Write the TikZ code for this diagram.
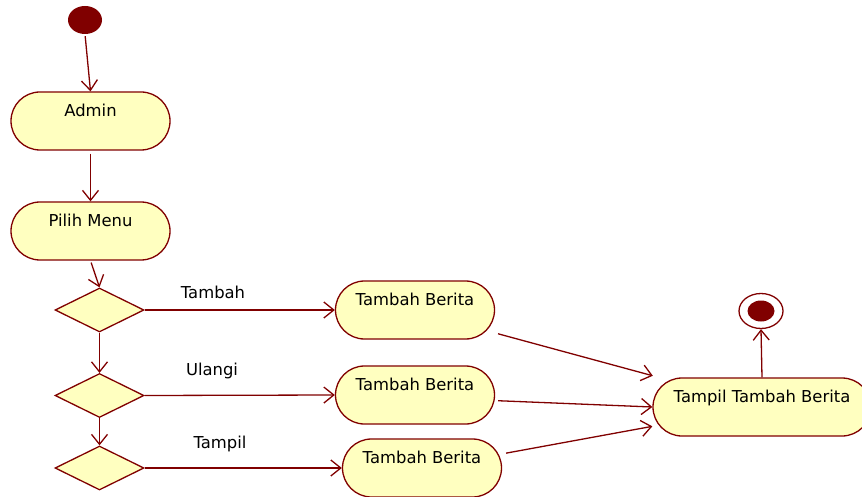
\documentclass[tikz,border=0pt]{standalone}
\usepackage{fontspec}
\setmainfont{DejaVu Sans}
\usetikzlibrary{shapes.geometric,arrows.meta}
\definecolor{edge}{RGB}{128,0,0}
\definecolor{actfill}{RGB}{255,255,192}
\tikzset{
  act/.style={draw=edge, fill=actfill, line width=1.3pt, rectangle,
    minimum width=159pt, minimum height=58pt, rounded corners=29pt,
    inner sep=0pt, text height=9pt, text depth=18pt,
    font=\fontsize{16.4}{19}\selectfont},
  decision/.style={draw=edge, fill=actfill, line width=1.3pt, diamond,
    minimum width=89pt, minimum height=44pt, inner sep=0pt},
  guard/.style={font=\fontsize{16.4}{19}\selectfont, inner sep=0pt},
  flow/.style={draw=edge, line width=1.3pt,
    -{Straight Barb[length=10pt,width=16pt,line width=1.3pt]}},
}
\begin{document}
\begin{tikzpicture}[x=1pt, y=-1pt]
  \path[use as bounding box] (0,0) rectangle (862,497);
  \clip (0,0) rectangle (862,497);

  % start and end markers
  \node[ellipse, fill=edge, minimum width=34pt, minimum height=28pt, inner sep=0pt] (start) at (85,20) {};
  \node[ellipse, draw=edge, line width=1.3pt, fill=white, minimum width=44pt, minimum height=35pt, inner sep=0pt] (end) at (761,311) {};
  \node[ellipse, fill=edge, minimum width=27pt, minimum height=21pt, inner sep=0pt] (endcore) at (761,311) {};

  % actions
  \node[act] (admin) at (90.5,121) {Admin};
  \node[act] (pilih) at (90.5,231) {Pilih Menu};
  \node[act] (tb1) at (415,310) {Tambah Berita};
  \node[act] (tb2) at (415,395) {Tambah Berita};
  \node[act] (tb3) at (422,468) {Tambah Berita};
  \node[act, minimum width=218pt] (tampil) at (762,407) {Tampil Tambah Berita};

  % decisions
  \node[decision] (d1) at (99.5,310) {};
  \node[decision] (d2) at (99.5,395.5) {};
  \node[decision] (d3) at (99.5,468) {};

  % guard labels
  \node[guard] (gtambah) at (213,292) {Tambah};
  \node[guard] (gulangi) at (212,371) {Ulangi};
  \node[guard] (gtampil) at (220,444) {Tampil};

  % control flow
  \path[flow, shorten <=2pt] (start.south) -- (admin.north);
  \path[flow, shorten <=3pt] (admin.south) -- (pilih.north);
  \path[flow, shorten <=2pt] (pilih.south) -- (d1.north);
  \path[flow] (d1.south) -- (d2.north);
  \path[flow] (d2.south) -- (d3.north);
  \path[flow] (d1.east) -- (tb1.west);
  \path[flow] (d2.east) -- (tb2.west);
  \path[flow] (d3.east) -- (tb3.west);
  \path[flow, shorten <=3pt, shorten >=6pt] (tb1.-16) -- (tampil.164);
  \path[flow, shorten <=3pt] (tb2.-4) -- (tampil.west);
  \path[flow, shorten <=4pt] (tb3.10) -- (tampil.190);
  \path[flow] (tampil.north) -- (end.south);
\end{tikzpicture}
\end{document}
